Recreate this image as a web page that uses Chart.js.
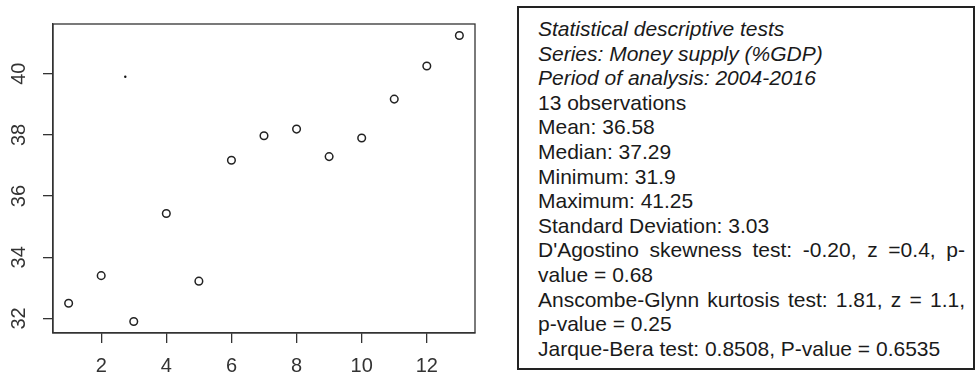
<!DOCTYPE html>
<html>
<head>
<meta charset="utf-8">
<script src="https://cdn.jsdelivr.net/npm/chart.js@4"></script>
<style>
  body { margin: 0; background: #fff; width: 976px; height: 373px; overflow: hidden; position: relative; font-family: "Liberation Sans", Arial, sans-serif; }
  #plot { position: absolute; left: 0; top: 0; width: 490px; height: 373px; }
  #stats { position: absolute; left: 517px; top: 6px; width: 458px; height: 364px; box-sizing: border-box;
           border: 2px solid #222; padding: 9px 0 0 19px; color: #1a1a1a; font-size: 21px; line-height: 24.6px; }
  #stats div { width: 427px; white-space: nowrap; }
  #stats .it { font-style: italic; }
  #stats .just { text-align: justify; text-align-last: justify; }
</style>
</head>
<body>
<div id="plot"><canvas id="chart"></canvas></div>
<div id="stats"></div>
<script>
// observation index and money supply (%GDP), 2004-2016
const obsIndex = [1, 2, 3, 4, 5, 6, 7, 8, 9, 10, 11, 12, 13];
const moneySupply = [32.5, 33.4, 31.9, 35.43, 33.22, 37.17, 37.97, 38.19, 37.29, 37.9, 39.17, 40.25, 41.25];

// the small stray dot in the upper left of the plot
const strayX = [2.74];
const strayY = [39.9];

const xTicks = [2, 4, 6, 8, 10, 12];
const yTicks = [32, 34, 36, 38, 40];

const statsTitle = [
  'Statistical descriptive tests',
  'Series: Money supply (%GDP)',
  'Period of analysis: 2004-2016'
];
const statsLines = [
  '13 observations',
  'Mean: 36.58',
  'Median: 37.29',
  'Minimum: 31.9',
  'Maximum: 41.25',
  'Standard Deviation: 3.03'
];
// wrapped test results: [first line, rest]
const statsTests = [
  ["D'Agostino skewness test: -0.20, z =0.4, p-", 'value = 0.68'],
  ['Anscombe-Glynn kurtosis test: 1.81, z = 1.1,', 'p-value = 0.25'],
  ['Jarque-Bera test: 0.8508, P-value = 0.6535']
];

// stats box
const statsEl = document.getElementById('stats');
function addLine(text, cls) {
  const d = document.createElement('div');
  d.textContent = text;
  if (cls) d.className = cls;
  statsEl.appendChild(d);
}
statsTitle.forEach(t => addLine(t, 'it'));
statsLines.forEach(t => addLine(t));
statsTests.forEach(t => {
  if (t.length > 1) {
    addLine(t[0], 'just');
    addLine(t[1]);
  } else {
    addLine(t[0]);
  }
});

// R style box round the plot area
const boxPlugin = {
  id: 'box',
  afterDraw(chart) {
    const { ctx, chartArea: a } = chart;
    ctx.save();
    ctx.strokeStyle = '#333';
    ctx.lineWidth = 1.3;
    ctx.strokeRect(a.left, a.top, a.right - a.left, a.bottom - a.top);
    ctx.restore();
  }
};

const tickFont = { family: '"Liberation Sans", Arial, sans-serif', size: 20 };
const axisColor = '#333';

new Chart(document.getElementById('chart'), {
  type: 'scatter',
  data: {
    datasets: [
      {
        data: obsIndex.map((x, i) => ({ x, y: moneySupply[i] })),
        pointStyle: 'circle',
        pointRadius: 3.8,
        pointBorderWidth: 1.5,
        borderColor: '#222',
        backgroundColor: 'rgba(0,0,0,0)'
      },
      {
        data: strayX.map((x, i) => ({ x, y: strayY[i] })),
        pointRadius: 1.2,
        pointBorderWidth: 0,
        backgroundColor: '#111',
        borderColor: '#111'
      }
    ]
  },
  plugins: [boxPlugin],
  options: {
    responsive: true,
    maintainAspectRatio: false,
    animation: false,
    layout: { padding: { top: 8, right: 15, left: 0, bottom: 0 } },
    plugins: { legend: { display: false }, tooltip: { enabled: false } },
    scales: {
      x: {
        type: 'linear',
        min: 0.52,
        max: 13.48,
        afterBuildTicks: s => { s.ticks = xTicks.map(v => ({ value: v })); },
        afterFit: s => { s.height = 40; },
        grid: { drawOnChartArea: false, drawTicks: true, tickLength: 10, color: axisColor, lineWidth: 1.3 },
        border: { color: axisColor, width: 1.3 },
        ticks: { color: '#333', font: tickFont, padding: 11, maxRotation: 0 }
      },
      y: {
        type: 'linear',
        min: 31.526,
        max: 41.624,
        afterBuildTicks: s => { s.ticks = yTicks.map(v => ({ value: v })); },
        afterFit: s => { s.width = 53; },
        grid: { drawOnChartArea: false, drawTicks: true, tickLength: 10, color: axisColor, lineWidth: 1.3 },
        border: { color: axisColor, width: 1.3 },
        ticks: { color: '#333', font: tickFont, padding: 12, minRotation: 90, maxRotation: 90, crossAlign: 'center' }
      }
    }
  }
});
</script>
</body>
</html>
